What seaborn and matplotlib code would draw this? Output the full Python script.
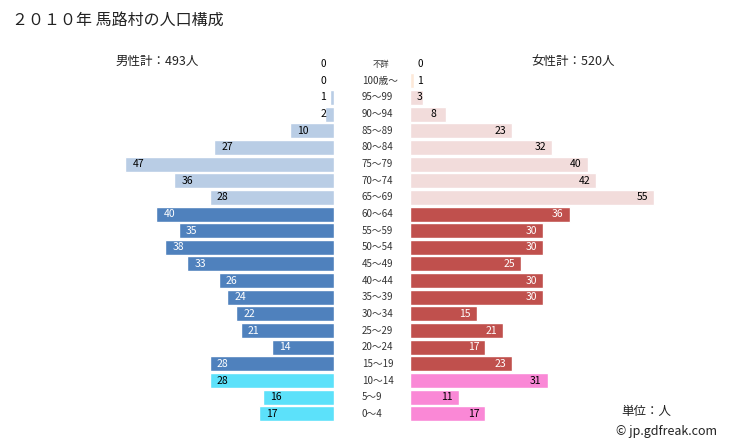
import matplotlib
matplotlib.use("Agg")
import matplotlib.pyplot as plt
import matplotlib.transforms as mtransforms
import seaborn as sns
import pandas as pd

# データ (上から順)
ages = ["不詳", "100歳～", "95～99", "90～94", "85～89", "80～84", "75～79",
        "70～74", "65～69", "60～64", "55～59", "50～54", "45～49", "40～44",
        "35～39", "30～34", "25～29", "20～24", "15～19", "10～14", "5～9", "0～4"]
male = [0, 0, 1, 2, 10, 27, 47, 36, 28, 40, 35, 38, 33, 26, 24, 22, 21, 14, 28, 28, 16, 17]
female = [0, 1, 3, 8, 23, 32, 40, 42, 55, 36, 30, 30, 25, 30, 30, 15, 21, 17, 23, 31, 11, 17]
male_total = 493
female_total = 520

# 色 (高齢 / 生産年齢 / 年少)
def group(i):
    if i < 9:
        return "old"
    if i < 19:
        return "mid"
    return "young"

male_colors = {"old": "#b9cde5", "mid": "#4f81bd", "young": "#5ce1fa"}
female_colors = {"old": "#f2dcdb", "mid": "#c0504d", "young": "#fa88d6"}

sns.set_theme(style="white")
plt.rcParams["font.family"] = ["Noto Sans CJK JP", "DejaVu Sans"]

W, H = 729, 446
fig = plt.figure(figsize=(W / 100, H / 100), dpi=100)

PX = 4.44  # 1人あたりのピクセル
top_px, bottom_px = 55.7, 422.3
male_max, female_max = 48, 58
center_l, center_r = 334, 410

ax_m = fig.add_axes([(center_l - male_max * PX) / W, 1 - bottom_px / H,
                     male_max * PX / W, (bottom_px - top_px) / H])
ax_f = fig.add_axes([center_r / W, 1 - bottom_px / H,
                     female_max * PX / W, (bottom_px - top_px) / H])

df = pd.DataFrame({"age": ages, "male": male, "female": female})

mpal = [male_colors[group(i)] for i in range(len(ages))]
fpal = [female_colors[group(i)] for i in range(len(ages))]
fpal[1] = "#fde9d9"

sns.barplot(data=df, x="male", y="age", hue="age", palette=mpal, legend=False,
            orient="h", width=0.9, saturation=1, ax=ax_m)
sns.barplot(data=df, x="female", y="age", hue="age", palette=fpal, legend=False,
            orient="h", width=0.9, saturation=1, ax=ax_f)

ax_m.set_xlim(male_max, 0)
ax_f.set_xlim(0, female_max)
for ax in (ax_m, ax_f):
    ax.set_ylim(len(ages) - 0.5, -0.5)
    ax.axis("off")

# 数値ラベル
for i, (m, f) in enumerate(zip(male, female)):
    mid = group(i) == "mid"
    fs = 7.5 if i > 0 else 7
    mx = max(m - 13 / PX, 11 / PX)
    ax_m.text(mx, i, str(m), ha="center", va="center", fontsize=fs,
              color="white" if mid else "black")
    fx = max(f - 12 / PX, 10 / PX)
    ax_f.text(fx, i, str(f), ha="center", va="center", fontsize=fs,
              color="white" if mid else "black")

# 年齢ラベル
tr = mtransforms.blended_transform_factory(fig.transFigure, ax_f.transData)
for i, a in enumerate(ages):
    if i == 0:
        ax_f.text(381 / W, i, a, ha="center", va="center", fontsize=6,
                  color="#333333", transform=tr)
    else:
        ax_f.text(362 / W, i, a, ha="left", va="center", fontsize=7,
                  color="#333333", transform=tr)

fig.text(12 / W, 1 - 20 / H, "２０１０年 馬路村の人口構成", fontsize=11.5,
         va="center", ha="left", color="#222222")
fig.text(157 / W, 1 - 61 / H, f"男性計：{male_total}人", fontsize=9,
         va="center", ha="center", color="#222222")
fig.text(573 / W, 1 - 61 / H, f"女性計：{female_total}人", fontsize=9,
         va="center", ha="center", color="#222222")
fig.text(646 / W, 1 - 411 / H, "単位：人", fontsize=9,
         va="center", ha="center", color="#222222")
fig.text(667 / W, 1 - 432 / H, "© jp.gdfreak.com", fontsize=9,
         va="center", ha="center", color="#222222")

fig.savefig("out.png", dpi=100)
